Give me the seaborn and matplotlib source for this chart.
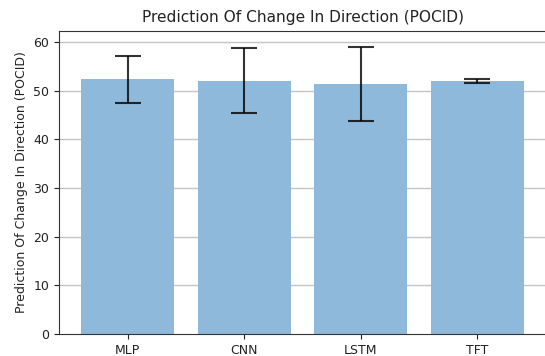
import matplotlib
matplotlib.use("Agg")
import matplotlib.pyplot as plt
import seaborn as sns
import numpy as np

models = ["MLP", "CNN", "LSTM", "TFT"]
pocid_mean = [52.3, 52.0, 51.3, 51.9]
pocid_std = [4.75, 6.7, 7.6, 0.4]
yticks = [0, 10, 20, 30, 40, 50, 60]

plt.rcParams['font.family'] = ['DejaVu Sans']
fig = plt.figure(figsize=(5.45, 3.56), dpi=100)
ax = fig.add_axes([59/545, 22/356, 487/545, 303.3/356])

for yt in yticks[1:]:
    ax.axhline(yt, color='#c4c4c4', linewidth=1.0, zorder=0.1)

sns.barplot(x=models, y=pocid_mean, color="#8fb9da", saturation=1,
            width=0.8, errorbar=None, ax=ax)
for p in ax.patches:
    p.set_zorder(2)
ax.errorbar(x=np.arange(len(models)), y=pocid_mean, yerr=pocid_std, fmt='none',
            ecolor='black', alpha=0.8, capsize=9.5, elinewidth=1.5, capthick=1.5, zorder=3)

ax.set_xlim(-0.59, 3.59)
ax.set_ylim(0, 62.3)
ax.set_yticks(yticks)
ax.grid(False)
ax.set_title("Prediction Of Change In Direction (POCID)", fontsize=11.1, pad=6, color='#222222')
ax.set_ylabel("Prediction Of Change In Direction (POCID)", fontsize=9, color='#222222')
ax.tick_params(labelsize=9, colors='#222222')
for s in ax.spines.values():
    s.set_color('#333333')

fig.savefig("out.png", dpi=100)
